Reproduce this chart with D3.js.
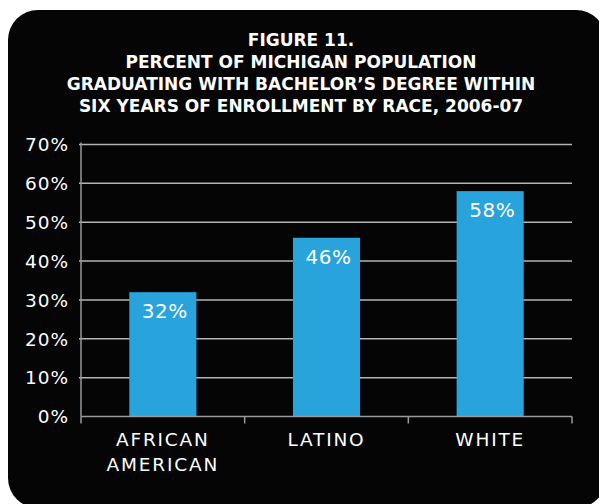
<!DOCTYPE html>
<html>
<head>
<meta charset="utf-8">
<script src="https://cdn.jsdelivr.net/npm/d3@7/dist/d3.min.js"></script>
<style>
  html, body { margin: 0; padding: 0; background: #ffffff; }
  svg { display: block; }
</style>
</head>
<body>
<script>
// Graduation rates by race, Michigan, 2006-07
const categories = [["AFRICAN", "AMERICAN"], ["LATINO"], ["WHITE"]];
const values = [32, 46, 58];
const yTicks = [0, 10, 20, 30, 40, 50, 60, 70];
const titleLines = [
  "FIGURE 11.",
  "PERCENT OF MICHIGAN POPULATION",
  "GRADUATING WITH BACHELOR\u2019S DEGREE WITHIN",
  "SIX YEARS OF ENROLLMENT BY RACE, 2006-07"
];

const W = 599, H = 504;
const plot = { left: 81, right: 572, top: 144.5, bottom: 416.5 };
const barColor = "#28a3dc";
const gridColor = "#b4b4b4";

const svg = d3.select("body").append("svg")
  .attr("width", W).attr("height", H);

// Black panel with rounded corners
svg.append("rect")
  .attr("x", 8).attr("y", 10)
  .attr("width", 598).attr("height", 498)
  .attr("rx", 30).attr("ry", 30)
  .attr("fill", "#050505");

// Title
svg.append("g")
  .selectAll("text")
  .data(titleLines)
  .join("text")
  .attr("x", 301)
  .attr("y", (d, i) => 46 + i * 22)
  .attr("text-anchor", "middle")
  .attr("fill", "#ffffff")
  .attr("font-family", "'DejaVu Sans', sans-serif")
  .attr("font-weight", "bold")
  .attr("font-size", 17)
  .text(d => d);

const x = d3.scaleBand()
  .domain(categories.map((d, i) => i))
  .range([plot.left, plot.right])
  .paddingInner(0.59)
  .paddingOuter(0.295);

const y = d3.scaleLinear()
  .domain([0, 70])
  .range([plot.bottom, plot.top]);

// Horizontal gridlines
svg.append("g")
  .selectAll("line")
  .data(yTicks.filter(t => t > 0))
  .join("line")
  .attr("x1", plot.left - 2)
  .attr("x2", plot.right)
  .attr("y1", d => y(d))
  .attr("y2", d => y(d))
  .attr("stroke", gridColor)
  .attr("stroke-width", 1.5);

// Y axis labels
const yAxis = svg.append("g")
  .attr("transform", `translate(${plot.left},0)`)
  .call(d3.axisLeft(y).tickValues(yTicks).tickSize(0).tickPadding(12)
    .tickFormat(d => d + "%"));
yAxis.select(".domain").remove();
yAxis.selectAll("text")
  .attr("fill", "#ffffff")
  .attr("font-family", "'DejaVu Sans', sans-serif")
  .attr("font-size", 18.5)
  .attr("letter-spacing", 1)
  .attr("dy", "0.34em");

// Vertical axis line
svg.append("line")
  .attr("x1", plot.left).attr("x2", plot.left)
  .attr("y1", plot.top - 2).attr("y2", plot.bottom)
  .attr("stroke", "#9a9a9a").attr("stroke-width", 1.5);

// Bars
svg.append("g")
  .selectAll("rect")
  .data(values)
  .join("rect")
  .attr("x", (d, i) => x(i))
  .attr("width", x.bandwidth())
  .attr("y", d => y(d))
  .attr("height", d => y(0) - y(d))
  .attr("fill", barColor);

// Value labels inside bars
svg.append("g")
  .selectAll("text")
  .data(values)
  .join("text")
  .attr("x", (d, i) => x(i) + x.bandwidth() / 2 + 2)
  .attr("y", d => y(d) + 26)
  .attr("text-anchor", "middle")
  .attr("fill", "#ffffff")
  .attr("font-family", "'DejaVu Sans', sans-serif")
  .attr("font-size", 20)
  .attr("letter-spacing", 0.5)
  .text(d => d + "%");

// X axis baseline with ticks at band boundaries
svg.append("line")
  .attr("x1", plot.left).attr("x2", plot.right)
  .attr("y1", plot.bottom).attr("y2", plot.bottom)
  .attr("stroke", "#9a9a9a").attr("stroke-width", 1.5);

const bounds = d3.range(categories.length + 1)
  .map(i => plot.left + i * x.step());
svg.append("g")
  .selectAll("line")
  .data(bounds)
  .join("line")
  .attr("x1", d => d).attr("x2", d => d)
  .attr("y1", plot.bottom).attr("y2", plot.bottom + 7)
  .attr("stroke", "#9a9a9a").attr("stroke-width", 1.5);

// Category labels
svg.append("g")
  .selectAll("text")
  .data(categories)
  .join("text")
  .attr("text-anchor", "middle")
  .attr("fill", "#ffffff")
  .attr("font-family", "'DejaVu Sans', sans-serif")
  .attr("font-size", 18.5)
  .attr("letter-spacing", 1.8)
  .each(function(lines, i) {
    d3.select(this).selectAll("tspan")
      .data(lines)
      .join("tspan")
      .attr("x", x(i) + x.bandwidth() / 2)
      .attr("y", (l, j) => 446 + j * 25)
      .text(l => l);
  });
</script>
</body>
</html>
